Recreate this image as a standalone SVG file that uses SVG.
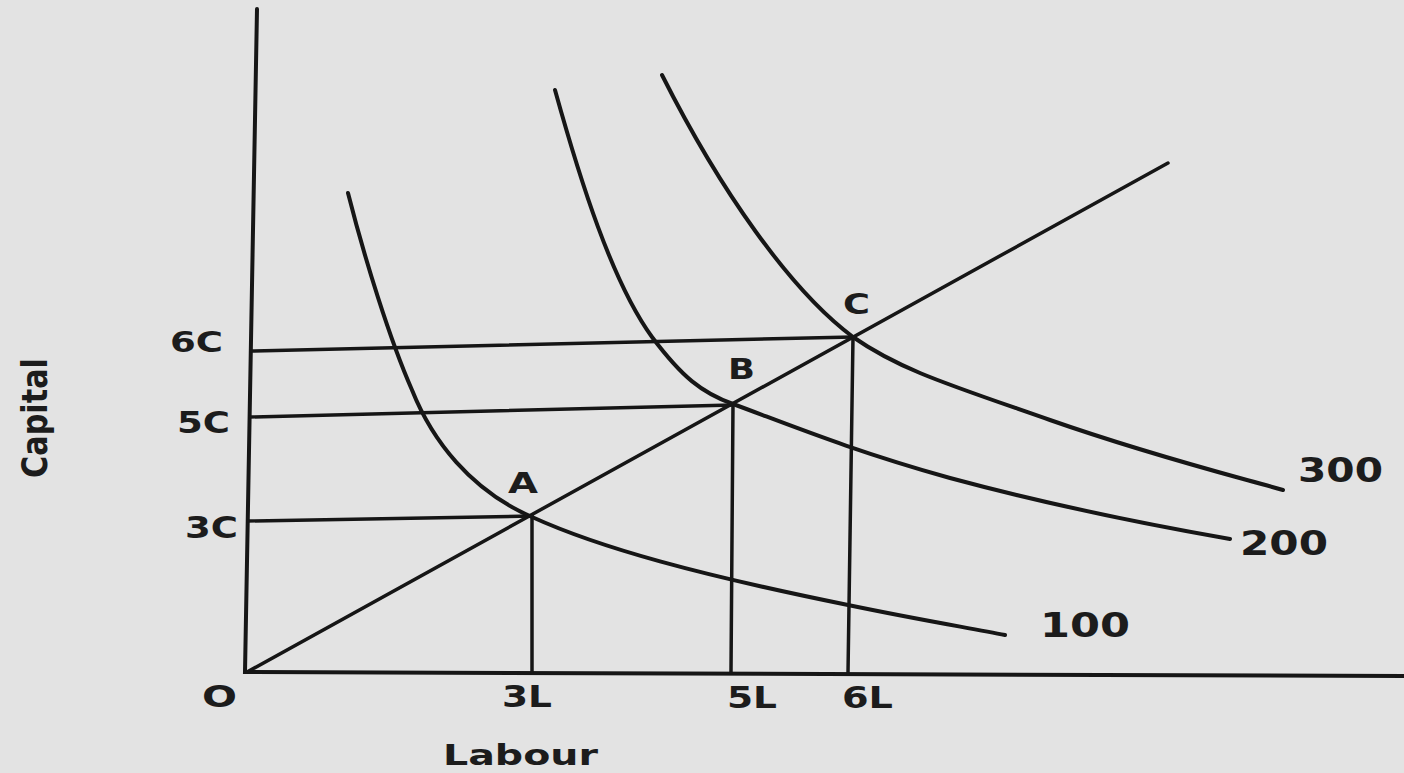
<svg xmlns="http://www.w3.org/2000/svg" width="1404" height="773" viewBox="0 0 1404 773">
<style>
.ln{fill:none;stroke:#161616;stroke-width:3.5;stroke-linecap:round;stroke-linejoin:round}
.ax{fill:none;stroke:#161616;stroke-width:4;stroke-linecap:round}
.cv{fill:none;stroke:#161616;stroke-width:4;stroke-linecap:round}
.t{font-family:"DejaVu Sans","Liberation Sans",sans-serif;font-weight:bold;fill:#1c1c1c}
</style>
<rect x="0" y="0" width="1404" height="773" fill="#e3e3e3"/>
<g id="axes">
<path class="ax" d="M257,9 L245,672 L1404,676"/>
</g>
<g id="connectors">
<path id="ray" class="ln" d="M247,672 L1168,163"/>
<path class="ln" d="M251,351 L853,337"/>
<path class="ln" d="M250,417 L733,405"/>
<path class="ln" d="M248,521 L532,516"/>
<path class="ln" d="M532,516 L532,672"/>
<path class="ln" d="M733,404 L731,672"/>
<path class="ln" d="M853,337 L848,673"/>
</g>
<g id="isoquant-100">
<path class="cv" d="M348,193 C365,260 390,340 412,390 C432,440 470,490 532,517 C600,548 700,575 848,605 C920,620 970,628 1005,635"/>
<text class="t" x="1040" y="637" font-size="33" textLength="90" lengthAdjust="spacingAndGlyphs">100</text>
</g>
<g id="isoquant-200">
<path class="cv" d="M555,90 C580,180 612,282 652,337 C682,377 702,393 733,404 C790,425 850,450 950,478 C1050,505 1150,525 1230,539"/>
<text class="t" x="1240" y="555" font-size="33" textLength="88" lengthAdjust="spacingAndGlyphs">200</text>
</g>
<g id="isoquant-300">
<path class="cv" d="M662,75 C720,190 790,290 853,337 C900,370 950,385 1050,420 C1150,455 1230,475 1283,490"/>
<text class="t" x="1298" y="482" font-size="33" textLength="85" lengthAdjust="spacingAndGlyphs">300</text>
</g>
<g id="point-A"><text class="t" x="508" y="493" font-size="29" textLength="30" lengthAdjust="spacingAndGlyphs">A</text></g>
<g id="point-B"><text class="t" x="728" y="379" font-size="29" textLength="27" lengthAdjust="spacingAndGlyphs">B</text></g>
<g id="point-C"><text class="t" x="843" y="314" font-size="29" textLength="27" lengthAdjust="spacingAndGlyphs">C</text></g>
<g id="labels">
<text class="t" x="170" y="352" font-size="28" textLength="53" lengthAdjust="spacingAndGlyphs">6C</text>
<text class="t" x="177" y="433" font-size="30" textLength="53" lengthAdjust="spacingAndGlyphs">5C</text>
<text class="t" x="185" y="538" font-size="30" textLength="53" lengthAdjust="spacingAndGlyphs">3C</text>
<text class="t" x="202" y="707" font-size="30" textLength="35" lengthAdjust="spacingAndGlyphs">O</text>
<text class="t" x="502" y="707" font-size="30" textLength="50" lengthAdjust="spacingAndGlyphs">3L</text>
<text class="t" x="727" y="708" font-size="30" textLength="50" lengthAdjust="spacingAndGlyphs">5L</text>
<text class="t" x="842" y="708" font-size="30" textLength="51" lengthAdjust="spacingAndGlyphs">6L</text>
<text class="t" x="443" y="765" font-size="29" textLength="155" lengthAdjust="spacingAndGlyphs">Labour</text>
<text class="t" transform="translate(47,478) rotate(-90)" x="0" y="0" font-size="36" textLength="120" lengthAdjust="spacingAndGlyphs">Capital</text>
</g>
</svg>
